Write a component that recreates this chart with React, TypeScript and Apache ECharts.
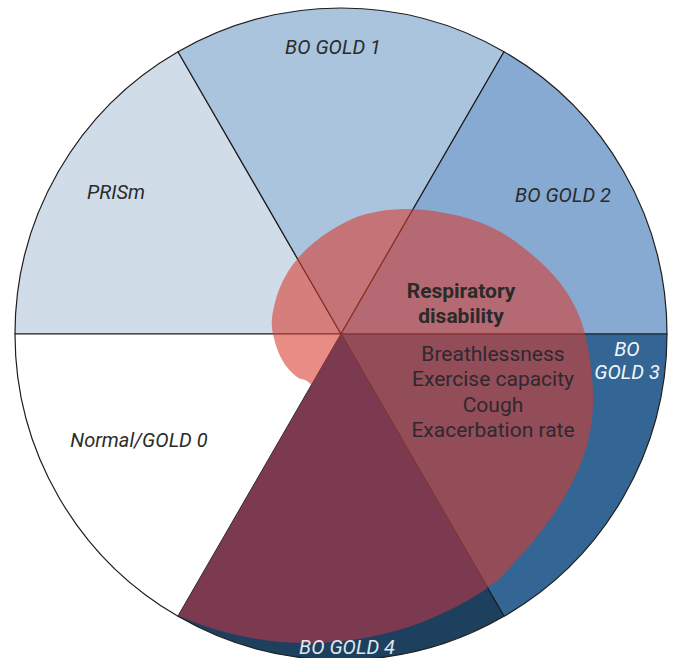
import React, { useEffect, useRef } from "react";
import * as echarts from "echarts";

// ---- data ----
const categories = ["PRISm", "BO GOLD 1", "BO GOLD 2", "BO GOLD 3", "BO GOLD 4", "Normal/GOLD 0"];
const sliceValues = [1, 1, 1, 1, 1, 1];
const sliceLabels = ["PRISm", "BO GOLD 1", "BO GOLD 2", "BO\nGOLD 3", "BO GOLD 4", "Normal/GOLD 0"];
const disabilityTitle = ["Respiratory", "disability"];
const disabilityItems = ["Breathlessness", "Exercise capacity", "Cough", "Exacerbation rate"];

// ---- styles / layout ----
const sliceColors = ["#d0dde9", "#a9c4dc", "#87aad2", "#336694", "#1d405f", "#ffffff"];
const labelColors = ["#2b2b2b", "#2b2b2b", "#2b2b2b", "#f2f5f9", "#dfe6ee", "#2b2b2b"];
const labelCenters = [
  [116, 192],
  [333, 47],
  [563, 195],
  [627, 360],
  [347, 647],
  [139, 440],
];
const CX = 341;
const CY = 334;
const R = 326;
const FONT = "Roboto, 'Noto Sans', sans-serif";

// outline of the "respiratory disability" overlay (absolute px, clockwise)
const blobOutline = [
  [272, 318], [281, 285], [299, 257], [327, 233], [363, 215], [407, 209],
  [455, 215], [495, 229], [530, 253], [560, 283], [580, 318], [590, 360],
  [593, 405], [587, 445], [572, 483], [551, 518], [522, 554], [487, 587],
  [440, 592], [390, 545], [345, 440], [313, 387], [297, 377], [284, 363],
  [275, 342],
];

// closed Catmull-Rom spline through the outline points
function closedSpline(pts: number[][], steps: number): number[][] {
  const n = pts.length;
  const out: number[][] = [];
  for (let i = 0; i < n; i++) {
    const p0 = pts[(i - 1 + n) % n];
    const p1 = pts[i];
    const p2 = pts[(i + 1) % n];
    const p3 = pts[(i + 2) % n];
    for (let s = 0; s < steps; s++) {
      const t = s / steps;
      const t2 = t * t;
      const t3 = t2 * t;
      const f = (a: number, b: number, c: number, d: number) =>
        0.5 * (2 * b + (-a + c) * t + (2 * a - 5 * b + 4 * c - d) * t2 + (-a + 3 * b - 3 * c + d) * t3);
      out.push([f(p0[0], p1[0], p2[0], p3[0]), f(p0[1], p1[1], p2[1], p3[1])]);
    }
  }
  return out;
}

// shifted disc that bounds the maroon part of the BO GOLD 4 slice
const SHIFT_DX = -33;
const SHIFT_DY = -12;
const SHIFT_R = 321;

function rayHit(screenDeg: number): [number, number] {
  const a = (screenDeg * Math.PI) / 180;
  const dx = Math.cos(a);
  const dy = Math.sin(a);
  const ox = -SHIFT_DX;
  const oy = -SHIFT_DY;
  const b = ox * dx + oy * dy;
  const c = ox * ox + oy * oy - SHIFT_R * SHIFT_R;
  const t = -b + Math.sqrt(b * b - c);
  return [CX + t * dx, CY + t * dy];
}

function gold4Wedge(): number[][] {
  const idx = categories.indexOf("BO GOLD 4");
  const total = sliceValues.reduce((s, v) => s + v, 0);
  let before = 0;
  for (let i = 0; i < idx; i++) before += sliceValues[i];
  const startMath = 180 - (before / total) * 360;
  const endMath = startMath - (sliceValues[idx] / total) * 360;
  const p1 = rayHit(-startMath);
  const p2 = rayHit(-endMath);
  const scx = CX + SHIFT_DX;
  const scy = CY + SHIFT_DY;
  const a1 = Math.atan2(p1[1] - scy, p1[0] - scx);
  const a2 = Math.atan2(p2[1] - scy, p2[0] - scx);
  const pts: number[][] = [[CX, CY], p1];
  const n = 48;
  for (let k = 1; k < n; k++) {
    const a = a1 + ((a2 - a1) * k) / n;
    pts.push([scx + SHIFT_R * Math.cos(a), scy + SHIFT_R * Math.sin(a)]);
  }
  pts.push(p2);
  return pts;
}

export default function App() {
  const ref = useRef<HTMLDivElement>(null);
  useEffect(() => {
    if (!ref.current) return;
    const chart = echarts.init(ref.current, undefined, { renderer: "svg" });

    const labelGraphics = categories.map((_, i) => ({
      type: "text",
      x: labelCenters[i][0],
      y: labelCenters[i][1],
      z: 20,
      silent: true,
      style: {
        text: sliceLabels[i],
        fill: labelColors[i],
        fontFamily: FONT,
        fontSize: 20,
        fontStyle: "italic",
        align: "center",
        verticalAlign: "middle",
        lineHeight: 23,
      },
    }));

    const option: any = {
      animation: false,
      backgroundColor: "#ffffff",
      series: [
        {
          type: "pie",
          center: [CX, CY],
          radius: [0, R],
          startAngle: 180,
          clockwise: true,
          silent: true,
          avoidLabelOverlap: false,
          label: { show: false },
          labelLine: { show: false },
          emphasis: { disabled: true },
          itemStyle: { borderColor: "#1e1e1e", borderWidth: 1.2 },
          data: categories.map((name, i) => ({
            name,
            value: sliceValues[i],
            itemStyle: { color: sliceColors[i] },
          })),
        },
      ],
      graphic: [
        {
          type: "polygon",
          z: 10,
          silent: true,
          shape: { points: closedSpline(blobOutline, 12) },
          style: { fill: "rgba(215,58,45,0.58)", stroke: "none" },
        },
        {
          type: "polygon",
          z: 11,
          silent: true,
          shape: { points: gold4Wedge() },
          style: { fill: "#7b3a50", stroke: "none" },
        },
        ...labelGraphics,
        {
          type: "text",
          x: 461,
          y: 303,
          z: 20,
          silent: true,
          style: {
            text: disabilityTitle.join("\n"),
            fill: "#2a2a2a",
            fontFamily: FONT,
            fontSize: 21,
            fontWeight: "bold",
            align: "center",
            verticalAlign: "middle",
            lineHeight: 25,
          },
        },
        {
          type: "text",
          x: 493,
          y: 392,
          z: 20,
          silent: true,
          style: {
            text: disabilityItems.join("\n"),
            fill: "#2e2830",
            fontFamily: FONT,
            fontSize: 21,
            align: "center",
            verticalAlign: "middle",
            lineHeight: 25.5,
          },
        },
      ],
    };
    chart.setOption(option);
    return () => chart.dispose();
  }, []);
  return (
    <div
      ref={ref}
      style={{ position: "absolute", left: 0, top: 0, width: 673, height: 658 }}
    />
  );
}
